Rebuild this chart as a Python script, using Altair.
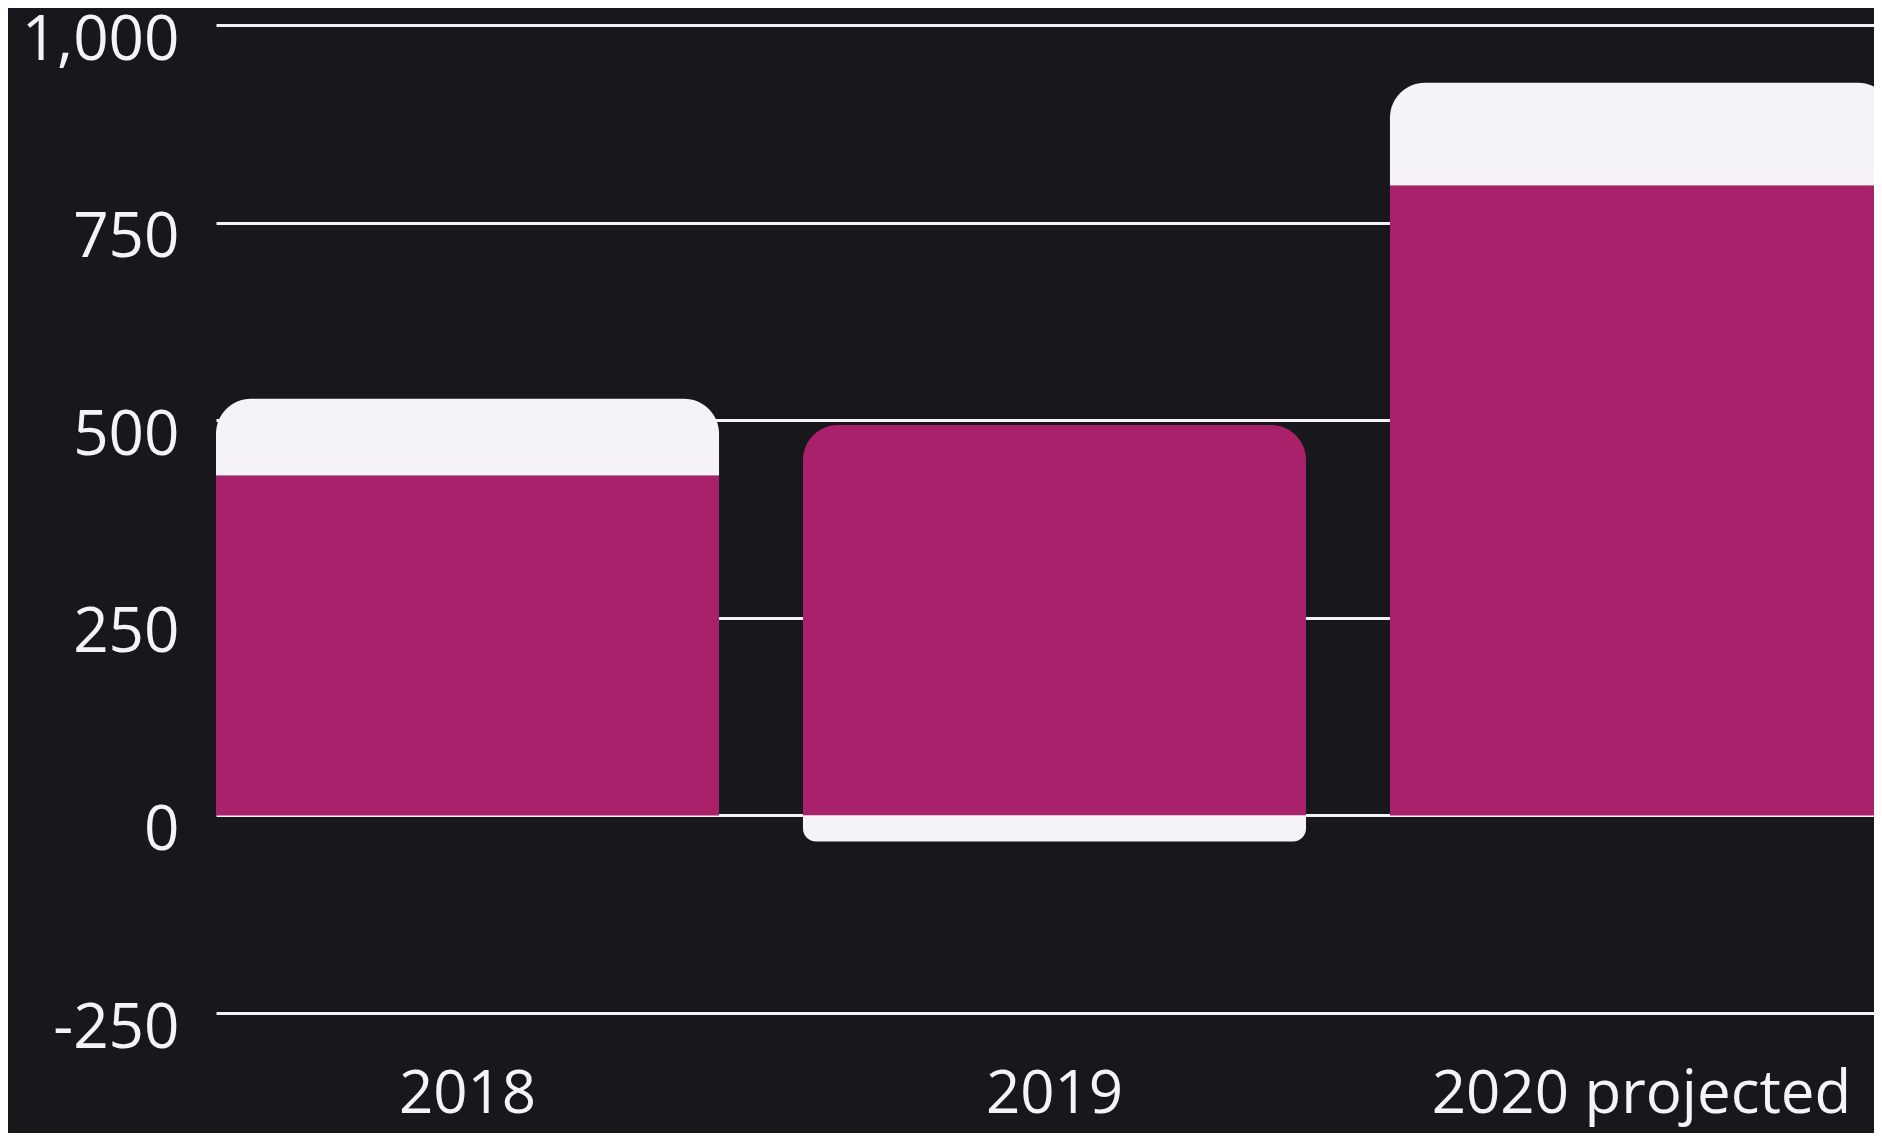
import altair as alt
import pandas as pd

categories = ["2018", "2019", "2020 projected"]
series_names = ["main", "extra"]
main_values = [430, 494, 797]
extra_values = [97, -33, 130]
y_ticks = [-250, 0, 250, 500, 750, 1000]

BG = "#18171c"
MAGENTA = "#a9216a"
LIGHT = "#f5f3f8"
FONT = "Open Sans"

rows = []
for i, cat in enumerate(categories):
    pos = 0.0
    neg = 0.0
    segs = []
    for name, val in ((series_names[0], main_values[i]), (series_names[1], extra_values[i])):
        if val >= 0:
            y0, y1 = pos, pos + val
            pos = y1
            segs.append(dict(category=cat, series=name, y0=y0, y1=y1, sign="pos"))
        else:
            y0, y1 = neg, neg + val
            neg = y1
            segs.append(dict(category=cat, series=name, y0=y0, y1=y1, sign="neg"))
    # the outermost segment in each direction gets rounded corners
    last_pos = [s for s in segs if s["sign"] == "pos"]
    last_neg = [s for s in segs if s["sign"] == "neg"]
    for s in segs:
        s["round"] = "none"
    if last_pos:
        last_pos[-1]["round"] = "top"
    if last_neg:
        last_neg[-1]["round"] = "bottom"
    rows.extend(segs)

df = pd.DataFrame(rows)

base = alt.Chart(df).encode(
    x=alt.X(
        "category:N",
        sort=categories,
        scale=alt.Scale(paddingInner=0.143, paddingOuter=0, range=[0, 1677]),
        axis=alt.Axis(
            title=None,
            labelAngle=0,
            labelFont=FONT,
            labelFontSize=60,
            labelColor=LIGHT,
            labelPadding=99,
            labelBaseline="alphabetic",
            labelLimit=2000,
            ticks=False,
            tickSize=0,
            domain=False,
            grid=False,
        ),
    ),
    y=alt.Y(
        "y0:Q",
        scale=alt.Scale(domain=[-250, 1000], nice=False, zero=False),
        axis=alt.Axis(
            title=None,
            values=y_ticks,
            labelExpr="replace(format(datum.value, ',.0f'), '\u2212', '-')",
            labelFont=FONT,
            labelFontSize=62,
            labelColor=LIGHT,
            labelPadding=37,
            labelBaseline="alphabetic",
            labelOffset=34,
            labelLimit=2000,
            ticks=False,
            tickSize=0,
            domain=False,
            grid=True,
            gridColor=LIGHT,
            gridWidth=3,
            gridOpacity=1,
        ),
    ),
    y2="y1:Q",
    color=alt.Color(
        "series:N",
        scale=alt.Scale(domain=series_names, range=[MAGENTA, LIGHT]),
        legend=None,
    ),
)

top = base.transform_filter(alt.datum.round == "top").mark_bar(
    cornerRadiusTopLeft=35, cornerRadiusTopRight=35, opacity=1
)
bottom = base.transform_filter(alt.datum.round == "bottom").mark_bar(
    cornerRadiusBottomLeft=25, cornerRadiusBottomRight=25, opacity=1
)
plain = base.transform_filter(alt.datum.round == "none").mark_bar(opacity=1)

chart = (
    alt.layer(plain, top, bottom)
    .properties(
        width=1658,
        height=988,
        autosize=alt.AutoSizeParams(type="none"),
        padding={"left": 208, "top": 17, "right": 0, "bottom": 120},
        background=BG,
    )
    .configure_view(stroke=None)
)

chart.save("out.html", embed_options={"renderer": "svg", "actions": False})
